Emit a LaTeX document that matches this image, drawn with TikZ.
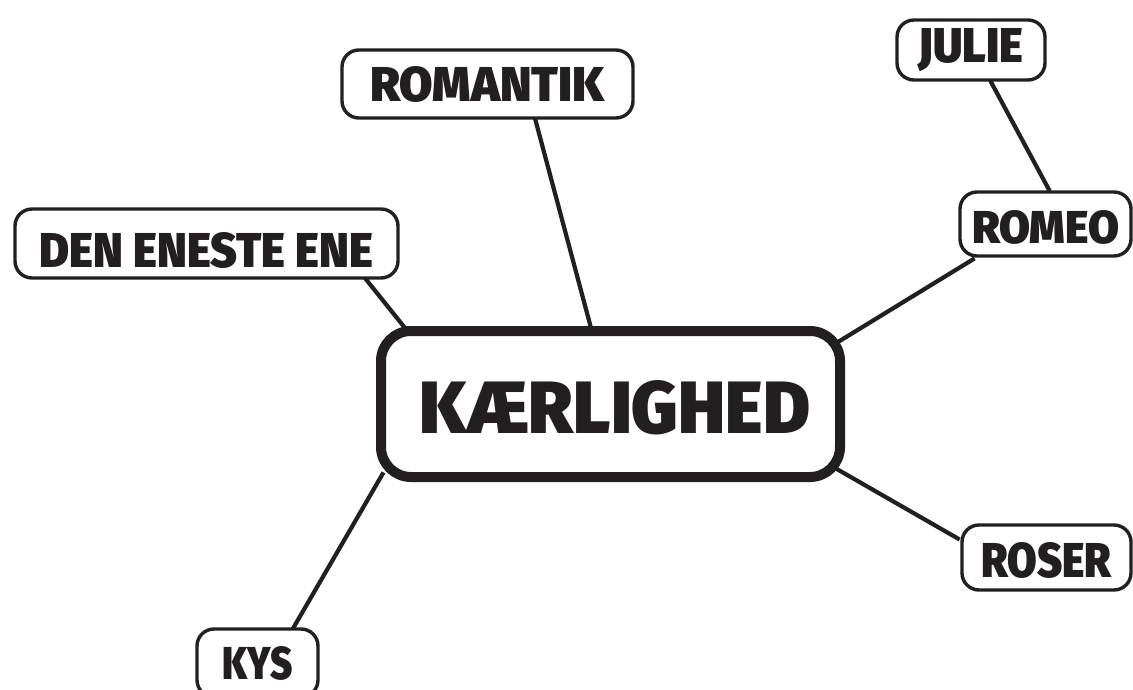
\documentclass[tikz,border=0pt]{standalone}
\usepackage{fontspec}
\setmainfont{Fira Sans}
\newfontfamily\heavyfont{Fira Sans Black}
\usetikzlibrary{backgrounds,calc}
\definecolor{ink}{RGB}{35,31,32}
\newcommand\fitlabel[3]{\resizebox{#1pt}{#2pt}{\heavyfont #3}}
\begin{document}
\begin{tikzpicture}[x=1pt,y=-1pt,
  box/.style={draw=ink, fill=white, line width=3.4pt, rounded corners=17pt, inner sep=0pt, text=ink},
  hub/.style={box, line width=10pt, rounded corners=30pt},
  link/.style={draw=ink, line width=4.2pt}]
\useasboundingbox (0,0) rectangle (1133,690);

\node[hub, minimum width=459pt, minimum height=146pt, text height=53pt, text depth=0pt] (c) at (610.5,404)
  {\hspace*{9pt}\raisebox{-2.5pt}{\fitlabel{390}{53}{KÆRLIGHED}}};
\node[box, minimum width=148pt, minimum height=60pt] (julie) at (971,50) {\fitlabel{105}{34}{JULIE}};
\node[box, minimum width=171pt, minimum height=64pt, text height=33pt, text depth=0pt] (romeo) at (1045.5,224)
  {\raisebox{-2.5pt}{\fitlabel{147}{33}{ROMEO}}};
\node[box, minimum width=383pt, minimum height=69pt, text height=35pt, text depth=0pt] (den) at (206.5,243.5)
  {\raisebox{-6pt}{\fitlabel{333}{35}{DEN ENESTE ENE}}};
\node[box, minimum width=291pt, minimum height=68pt] (romantik) at (487.5,84) {\fitlabel{234}{35}{ROMANTIK}};
\node[box, minimum width=121pt, minimum height=68pt] (kys) at (257.5,663) {\fitlabel{70}{33}{KYS}};
\node[box, minimum width=169pt, minimum height=65pt, text height=35pt, text depth=0pt] (roser) at (1046.5,557.5)
  {\raisebox{-2pt}{\fitlabel{130}{35}{ROSER}}};

\begin{scope}[on background layer]
  \fill[white] (0,0) rectangle (1133,690);
  \draw[link] ($(julie)+(19.3,30.7)$) -- ($(romeo)+(4.2,-33)$);
  \draw[link] ($(romeo)+(-70.9,34.4)$) -- ($(c)+(224.9,-60.4)$);
  \draw[link] ($(c)+(221.9,62.5)$) -- ($(roser)+(-86.9,-18)$);
  \draw[link] ($(c)+(-227,68.4)$) -- ($(kys)+(35,-33.7)$);
  \draw[link] ($(den)+(156.6,32.2)$) -- ($(c)+(-203.5,-73.5)$);
  \draw[link] ($(romantik)+(46.7,31.4)$) -- ($(c)+(-18.8,-73.4)$);
\end{scope}
\end{tikzpicture}
\end{document}
